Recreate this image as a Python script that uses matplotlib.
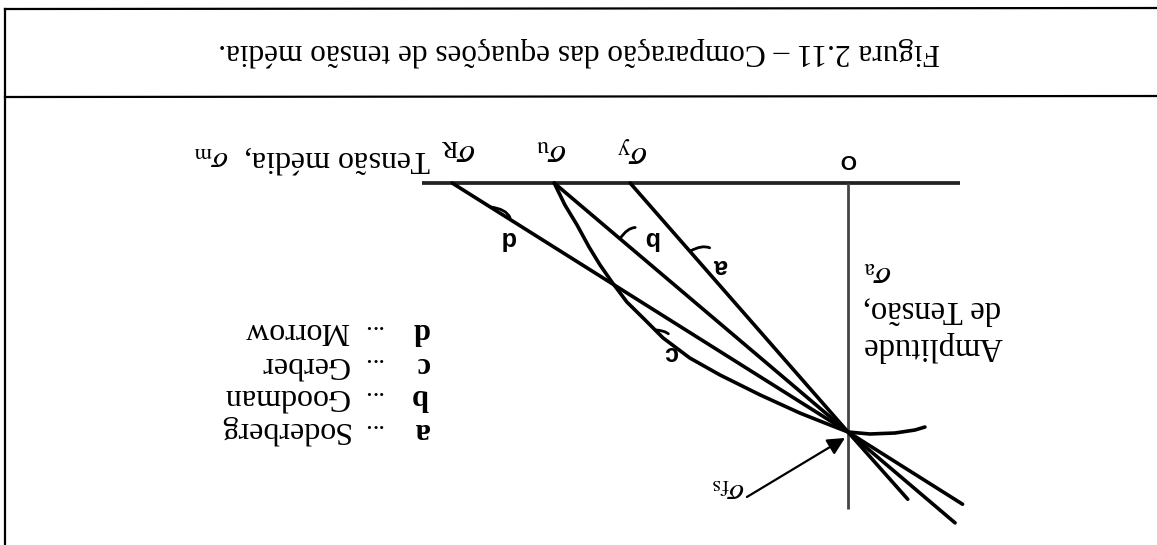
import matplotlib
matplotlib.use('Agg')
import matplotlib.pyplot as plt
from matplotlib.lines import Line2D

plt.rcParams['font.family'] = ['Liberation Serif', 'DejaVu Serif']
plt.rcParams['mathtext.fontset'] = 'stix'

###########################
# DATA (stress, sigma_fs = 1) #
###########################

sigma_fs = 1.00
sigma_y = 0.875
sigma_u = 1.18
sigma_R = 1.59

# straight criteria: from the sigma_m intercept through sigma_fs and past the axis
soderberg_sm = [sigma_y, 0.0, -0.24]
soderberg_sa = [0.0, sigma_fs, 1.27]
goodman_sm = [sigma_u, 0.0, -0.43]
goodman_sa = [0.0, sigma_fs, 1.365]
morrow_sm = [sigma_R, 0.0, -0.46]
morrow_sa = [0.0, sigma_fs, 1.29]

# Gerber parabola
gerber_sm = [1.18, 1.137, 1.088, 1.040, 0.996, 0.948, 0.888, 0.815, 0.743, 0.635,
             0.514, 0.353, 0.193, 0.072, 0.0, -0.088, -0.189, -0.269, -0.309]
gerber_sa = [0.0, 0.088, 0.169, 0.257, 0.329, 0.398, 0.478, 0.550, 0.622, 0.703,
             0.771, 0.851, 0.924, 0.972, 1.0, 1.008, 1.004, 0.992, 0.980]

legend_keys = ['a', 'b', 'c', 'd']
legend_names = ['Soderberg', 'Goodman', 'Gerber', 'Morrow']

title = 'Figura 2.11 \u2013 Compara\u00e7\u00e3o das equa\u00e7\u00f5es de tens\u00e3o m\u00e9dia.'

# the page is printed upside down, so everything is drawn turned by 180 degrees
ROT = 180
W, H = 1157, 545
px = 249.0          # pixels per unit of stress
ox, oy = 848, 183   # where the origin sits on the page


def rtext(ax, x, y, s, **kw):
    kw.setdefault('rotation', ROT)
    kw.setdefault('rotation_mode', 'anchor')
    kw.setdefault('ha', 'center')
    kw.setdefault('va', 'center')
    return ax.text(x, y, s, **kw)


fig = plt.figure(figsize=(W / 100, H / 100), dpi=100)
ax = fig.add_axes([0, 0, 1, 1])
ax.axis('off')
# inverted axes give the 180 degree turn of the whole diagram
ax.set_xlim(ox / px, -(W - ox) / px)
ax.set_ylim((H - oy) / px, -oy / px)

# frame and title box (figure fraction, y measured from the bottom)
def fline(x0, y0, x1, y1, lw=1.6):
    fig.add_artist(Line2D([x0 / W, x1 / W], [1 - y0 / H, 1 - y1 / H],
                          color='black', lw=lw, transform=fig.transFigure))

fline(5, 9, W, 8)
fline(5, 97, W, 96)
fline(5, 9, 5, H)

fig.text(579 / W, 1 - 52 / H, title, rotation=ROT, ha='center', va='center',
         fontsize=22.5)

# axes of the diagram
ax.plot([1.71, -0.45], [0, 0], color='#222222', lw=2.7, solid_capstyle='butt')
ax.plot([0, 0], [0, 1.31], color='#444444', lw=2.0, solid_capstyle='butt')

# criteria
for sm, sa in [(soderberg_sm, soderberg_sa), (goodman_sm, goodman_sa),
               (morrow_sm, morrow_sa), (gerber_sm, gerber_sa)]:
    ax.plot(sm, sa, color='black', lw=2.6, solid_joinstyle='round',
            solid_capstyle='round')

# labels on the sigma_m axis
rtext(ax, sigma_R - 0.025, -0.125, r'$\sigma_\mathrm{R}$', fontsize=25)
rtext(ax, sigma_u + 0.01, -0.125, r'$\sigma_\mathrm{u}$', fontsize=25)
rtext(ax, sigma_y - 0.01, -0.13, r'$\sigma_\mathrm{y}$', fontsize=25)
rtext(ax, 0.0, -0.095, 'O', fontsize=15, fontweight='bold', family='Liberation Sans')
rtext(ax, 1.675, -0.092, 'Tens\u00e3o m\u00e9dia,  $\\sigma_\\mathrm{m}$', ha='left',
      fontsize=23)

# label of the sigma_a axis
rtext(ax, -0.06, 0.655, 'Amplitude', ha='right', fontsize=23.5)
rtext(ax, -0.06, 0.508, 'de Tens\u00e3o,', ha='right', fontsize=23.5)
rtext(ax, -0.06, 0.365, r'$\sigma_\mathrm{a}$', ha='right', fontsize=24)

# sigma_fs pointer
ax.annotate('', xy=(0.012, 1.024), xytext=(0.406, 1.261),
            arrowprops=dict(arrowstyle='-|>', mutation_scale=26, lw=1.6,
                            color='black', shrinkA=0, shrinkB=0))
rtext(ax, 0.482, 1.233, r'$\sigma_\mathrm{fs}$', fontsize=23)

# curve letters with their little hooks
hook_pts = [(0.635, 0.274), (0.916, 0.224), (0.775, 0.59), (1.438, 0.096)]
letter_pts = [(0.514, 0.333), (0.791, 0.221), (0.715, 0.683), (1.369, 0.221)]
for key, p, q in zip(legend_keys, hook_pts, letter_pts):
    ax.annotate(key, xy=p, xytext=q, rotation=ROT, ha='center', va='center',
                fontsize=18, fontweight='bold', family='Liberation Sans',
                arrowprops=dict(arrowstyle='-', connectionstyle='arc3,rad=0.7',
                                lw=2.0, color='black', shrinkA=4, shrinkB=0))

# key of the criteria
rows = [0.992, 0.859, 0.727, 0.594]
for key, name, y in zip(legend_keys, legend_names, rows):
    rtext(ax, 1.683, y, key, ha='left', fontsize=22, fontweight='bold')
    rtext(ax, 1.872, y, '...', ha='left', fontsize=19)
    rtext(ax, 2.004, y, name, ha='left', fontsize=23)

fig.savefig('out.png', dpi=100)
